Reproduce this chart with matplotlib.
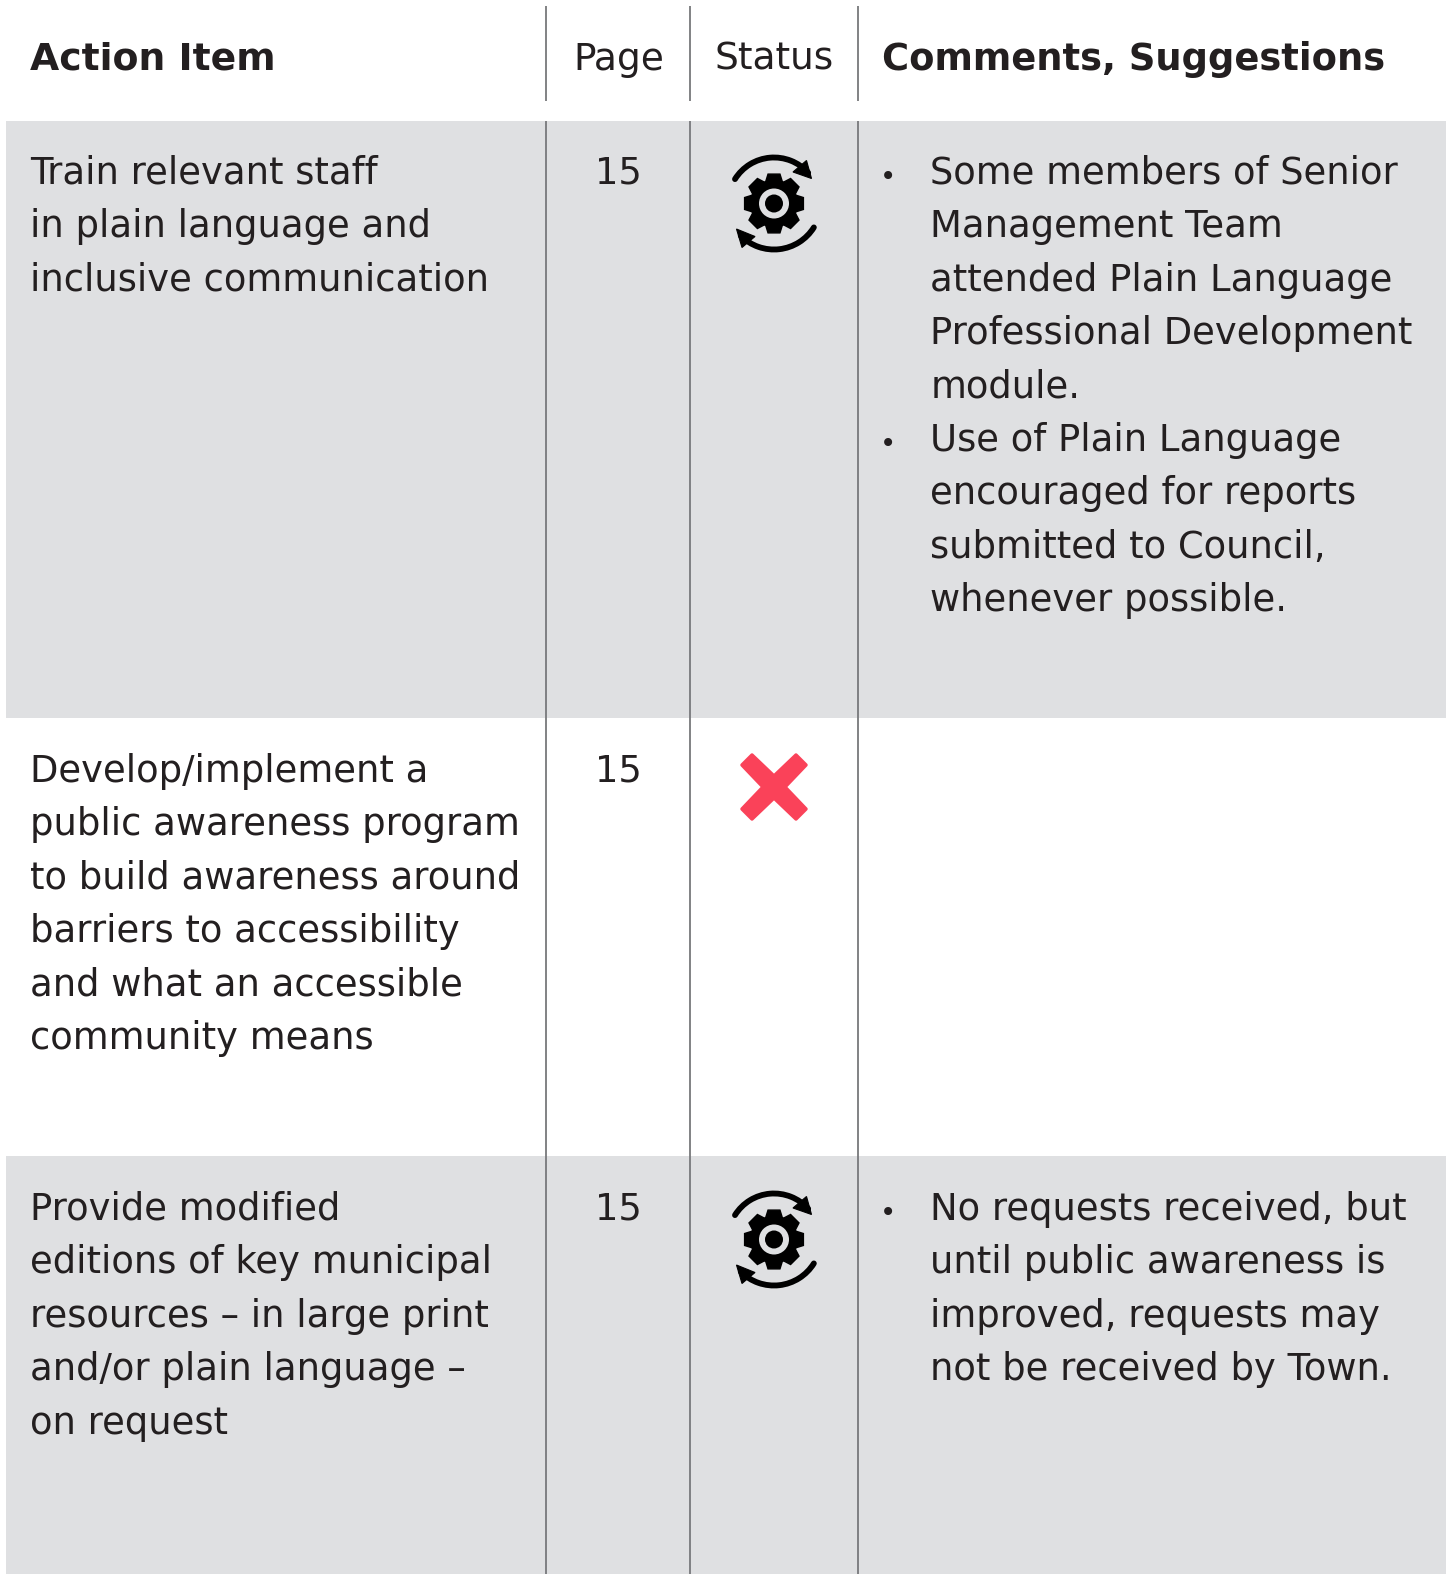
import matplotlib
matplotlib.use("Agg")
import matplotlib.pyplot as plt
import numpy as np
from matplotlib.patches import Rectangle, Polygon, Circle, Arc

plt.rcParams["font.family"] = ["DejaVu Sans"]

headers = ["Action Item", "Page", "Status", "Comments, Suggestions"]
actions = [
    ["Train relevant staff", "in plain language and", "inclusive communication"],
    ["Develop/implement a", "public awareness program", "to build awareness around",
     "barriers to accessibility", "and what an accessible", "community means"],
    ["Provide modified", "editions of key municipal", "resources \u2013 in large print",
     "and/or plain language \u2013", "on request"],
]
pages = ["15", "15", "15"]
status = ["progress", "none", "progress"]
# each row is a list of bullets, each bullet a list of lines
comments = [
    [["Some members of Senior", "Management Team", "attended Plain Language",
      "Professional Development", "module."],
     ["Use of Plain Language", "encouraged for reports", "submitted to Council,",
      "whenever possible."]],
    [],
    [["No requests received, but", "until public awareness is",
      "improved, requests may", "not be received by Town."]],
]

W, H = 1447, 1574
TEXT = "#231f20"
GREY = "#dfe0e2"
LINE = "#77787b"
RED = "#fa4259"
FS = 26.6
LH = 53.4
col_x = [546, 690, 858]
row_top = [120.5, 718, 1156]
row_bot = [718, 1156, 1574]
row_base = [184, 782, 1220]

fig = plt.figure(figsize=(W / 100, H / 100), dpi=100)
ax = fig.add_axes([0, 0, 1, 1])
ax.set_xlim(0, W)
ax.set_ylim(H, 0)
ax.axis("off")


def draw_progress(cx, cy):
    # gear
    n = 8
    pts = []
    for i in range(n):
        a = 2 * np.pi * i / n - np.pi / 2
        for da, r in [(-0.36, 23.5), (-0.2, 30), (0.2, 30), (0.36, 23.5)]:
            pts.append((cx + r * np.cos(a + da), cy + r * np.sin(a + da)))
    ax.add_patch(Polygon(pts, closed=True, fc="black", ec="black", lw=1, zorder=3))
    ax.add_patch(Circle((cx, cy), 15, fc=GREY, ec="none", zorder=4))
    ax.add_patch(Circle((cx, cy), 9, fc="black", ec="none", zorder=5))
    # top and bottom arrows (y axis is flipped, so angles run clockwise on screen)
    ax.add_patch(Arc((cx, cy), 92, 92, theta1=212, theta2=318, color="black", lw=4.2, capstyle="round", zorder=3))
    ax.add_patch(Arc((cx, cy - 1), 94, 94, theta1=32, theta2=135, color="black", lw=4.2, capstyle="round", zorder=3))
    ax.add_patch(Polygon([(cx + 32.5, cy - 43), (cx + 37.5, cy - 25), (cx + 19, cy - 31.5)], fc="black", ec="black", lw=0.8, zorder=3))
    ax.add_patch(Polygon([(cx - 37.5, cy + 25.5), (cx - 32, cy + 44), (cx - 19, cy + 33)], fc="black", ec="black", lw=0.8, zorder=3))


def draw_cross(cx, cy):
    pts = [(-22, -32), (0, -11), (22, -32), (32, -22), (11, 0), (32, 22),
           (22, 32), (0, 11), (-22, 32), (-32, 22), (-11, 0), (-32, -22)]
    ax.add_patch(Polygon([(cx + x, cy + y) for x, y in pts], closed=True, fc=RED, ec=RED,
                         lw=2.5, joinstyle="round", zorder=3))


# grey bands
for i in [0, 2]:
    ax.add_patch(Rectangle((6, row_top[i]), W - 7, row_bot[i] - row_top[i], fc=GREY, ec="none", zorder=0))

# column rules
for x in col_x:
    ax.plot([x, x], [6, 101], color=LINE, lw=1.3, zorder=1, solid_capstyle="butt")
    ax.plot([x, x], [120.5, H], color=LINE, lw=1.3, zorder=1, solid_capstyle="butt")

# header
ax.text(30, 70, headers[0], fontsize=27.2, fontweight="bold", color=TEXT, va="baseline")
ax.text(618.5, 70, headers[1], fontsize=27, color=TEXT, ha="center", va="baseline")
ax.text(774, 70, headers[2], fontsize=27, color=TEXT, ha="center", va="baseline")
ax.text(882.5, 70, headers[3], fontsize=26.55, fontweight="bold", color=TEXT, va="baseline")

for r in range(3):
    base = row_base[r]
    for j, line in enumerate(actions[r]):
        ax.text(30, base + j * LH, line, fontsize=FS, color=TEXT, va="baseline")
    ax.text(618.5, base, pages[r], fontsize=FS, color=TEXT, ha="center", va="baseline")
    if status[r] == "progress":
        draw_progress(774, base + 19.5)
    else:
        draw_cross(774, base + 5)
    k = 0
    for bullet in comments[r]:
        ax.text(888.5, base + k * LH + 1, "\u2022", fontsize=20, color=TEXT, ha="center", va="baseline")
        for line in bullet:
            ax.text(930.5, base + k * LH, line, fontsize=FS, color=TEXT, va="baseline")
            k += 1

fig.savefig("out.png", dpi=100, facecolor="white")
